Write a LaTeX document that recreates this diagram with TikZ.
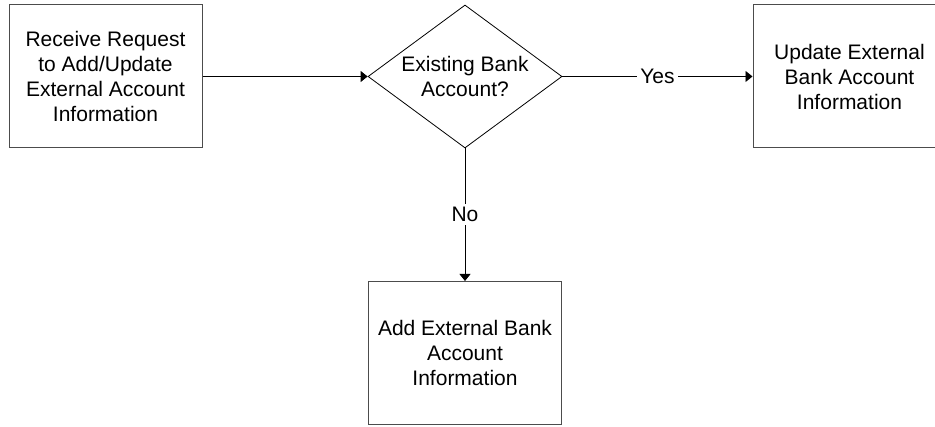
\documentclass[tikz,border=0pt]{standalone}
\usepackage{fontspec}
\setmainfont{Liberation Sans}
\usetikzlibrary{shapes.geometric,arrows.meta}

\begin{document}
\begin{tikzpicture}[x=1pt,y=-1pt,
    box/.style={draw=black!70,line width=1,minimum width=193,minimum height=143,inner sep=0,align=center,font=\fontsize{21pt}{25pt}\selectfont},
    decision/.style={draw=black,line width=0.8,shape=diamond,minimum width=194,minimum height=143,inner sep=0},
    question/.style={align=center,font=\fontsize{21pt}{25pt}\selectfont},
    flow/.style={line width=0.8,black,-{Triangle[width=11,length=7]}},
    answer/.style={fill=white,inner sep=3,font=\fontsize{21pt}{25pt}\selectfont}]
            \useasboundingbox (0,0) rectangle (935,427);
            % left box
            \node [box] (recv) at (105.5,76.5) {Receive Request\\to Add/Update\\External Account\\Information};
            % decision
            \node [decision] (exists) at (465,76.5) {};
            \node [question] (existstext) at (exists.center) {Existing Bank\\Account?};
            % right box
            \node [box] (update) at (849.5,76.5) {Update External\\Bank Account\\Information};
            % bottom box
            \node [box] (add) at (465,353) {Add External Bank\\Account\\Information};
            % arrows
            \draw [flow] (recv.east) -- (exists.west);
            \draw [flow] (exists.east) -- node [answer] {Yes} (update.west);
            \draw [flow] (exists.south) -- node [answer,pos=0.5] {No} (add.north);
\end{tikzpicture}
\end{document}
